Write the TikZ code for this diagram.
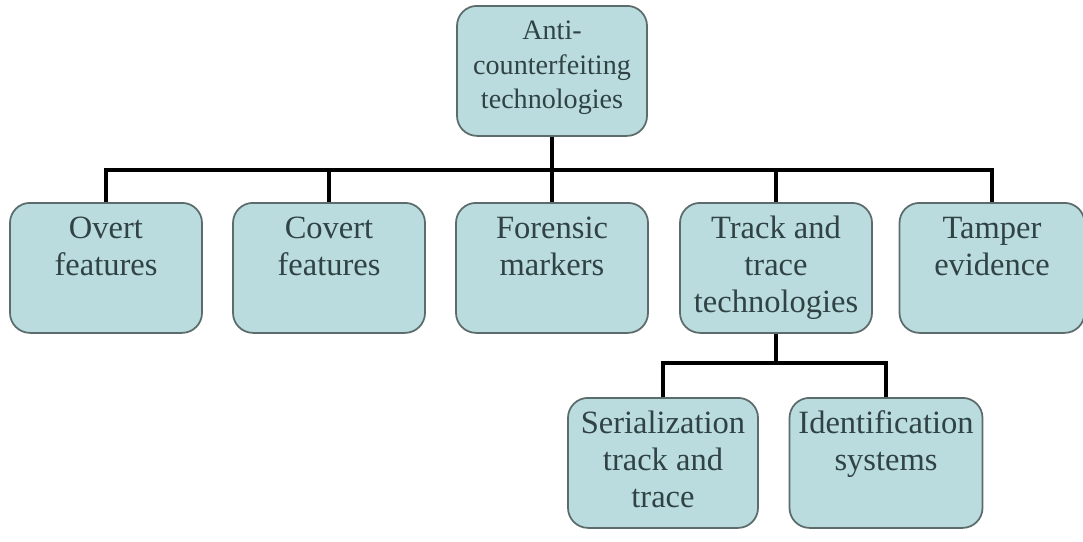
\documentclass[tikz,border=0pt]{standalone}
\usepackage{fontspec}
\setmainfont{Liberation Serif}
\usepackage{tikz}
\usetikzlibrary{positioning}

\definecolor{cajafondo}{RGB}{186,220,222}
\definecolor{cajaborde}{RGB}{92,108,108}
\definecolor{textocaja}{RGB}{48,66,68}

\newcommand{\ctexto}[1]{\parbox[c][2.6cm][t]{3.7cm}{\centering\vspace*{0.2cm}\strut #1}}

\begin{document}
\begin{tikzpicture}[every node/.style={draw=cajaborde, line width=1pt, fill=cajafondo, rounded corners=0.4cm, inner sep=0pt, minimum height=2.6cm, minimum width=3.84cm, text=textocaja, font=\fontsize{18.5}{21}\selectfont}]
            \useasboundingbox (0,0) rectangle (21.66,-10.82);
            % Nodos
            \node[anchor=north, minimum width=3.8cm, font=\fontsize{16}{19.6}\selectfont] (anti) at (11.04,-0.1) {\ctexto{Anti-\\counterfeiting\\technologies}};
            \node[anchor=north] (overt) at (2.12,-4.04) {\ctexto{Overt\\features}};
            \node[anchor=north] (covert) at (6.58,-4.04) {\ctexto{Covert\\features}};
            \node[anchor=north] (forensic) at (11.04,-4.04) {\ctexto{Forensic\\markers}};
            \node[anchor=north] (track) at (15.52,-4.04) {\ctexto{Track and\\trace\\technologies}};
            \node[anchor=north, minimum width=3.6cm] (tamper) at (19.84,-4.04) {\ctexto{Tamper\\evidence}};
            \node[anchor=north, minimum width=3.8cm] (serial) at (13.26,-7.94) {\ctexto{Serialization\\track and\\trace}};
            \node[anchor=north, minimum width=3.86cm] (ident) at (17.72,-7.94) {\ctexto{Identification\\systems}};
            \coordinate (bus) at (0,-3.4);
            \coordinate (bus2) at (0,-7.26);

            % Conexiones
            \draw[line width=2.8pt] (anti.south) -- (forensic.north);
            \draw[line width=2.8pt] (overt.north) -- (overt.north |- bus) -- (tamper.north |- bus) -- (tamper.north);
            \draw[line width=2.8pt] (covert.north) -- (covert.north |- bus);
            \draw[line width=2.8pt] (track.north) -- (track.north |- bus);
            \draw[line width=2.8pt] (track.south) -- (track.south |- bus2);
            \draw[line width=2.8pt] (serial.north) -- (serial.north |- bus2) -- (ident.north |- bus2) -- (ident.north);
          \end{tikzpicture}
\end{document}
